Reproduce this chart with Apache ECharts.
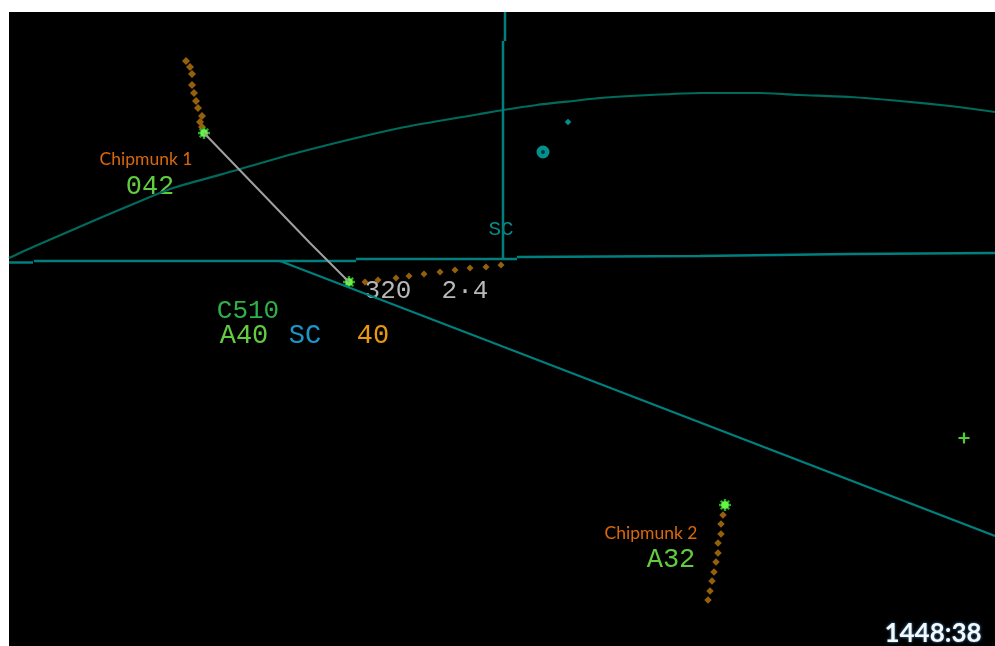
<!DOCTYPE html>
<html><head><meta charset="utf-8">
<style>html,body{margin:0;padding:0;background:#fff}#c{width:995px;height:646px}</style>
<script src="https://cdn.jsdelivr.net/npm/echarts@6/dist/echarts.min.js"></script>
</head><body><div id="c"></div>
<script>
const rangeArc = [[9,258],[33,247],[100,218],[150,197],[173,188],[237,170],[300,152],[400,128],[480,114],[503,110],[537,105],[573,101],[600,98],[650,95],[700,93],[760,93],[800,95],[850,97],[900,101],[950,106],[995,112]];
const baseLeftStub = [[9,262.5],[33,262.5]];
const baseLeft = [[34,261],[356,261]];
const baseMid = [[356,259],[517,259]];
const baseRight = [[517,257],[700,256],[850,254],[995,253]];
const verticalTop = [[505,12],[505,41]];
const verticalMain = [[503,41],[503,259]];
const diagonal = [[280,261],[530,357],[995,536]];
const bearingLine = [[204,133],[310,243],[349,282]];
const track1 = [[186,61],[190,67],[192,74],[192,85],[194,93],[196,101],[198,108],[202,116],[200,122],[202,127]];
const trackCentre = [[365,282],[378,280],[396,278],[409,276],[424,274],[440,272],[455,270],[470,268],[486,267],[501,265]];
const track2 = [[723,515],[721,524],[721,534],[718,543],[718,553],[716,562],[714,572],[712,581],[710,591],[708,600]];
const targets = [[204,133],[349,282],[725,505]];
const crossMark = [[964,438]];
const ringMark = [[543,152]];
const dotMark = [[568,122]];
const altitudeTexts = [['042',150,187],['A32',671,560],['A40',244,336]];
const callsignTexts = [['C510',248,311]];
const sectorTexts = [['SC',501,229]];
const handoffTexts = [['SC',305,336]];
const grayTexts = [['320',388,291],['2·4',465,291]];
const orangeTexts = [['40',373,336]];
const calloutTexts = [['Chipmunk 1',146,159],['Chipmunk 2',651,533]];
const clockText = [['1448:38',933,634]];

const TEAL='#007f7e', ARC='#006a5c', BROWN='#94600c';
const PLUS='path://M-1 -5H1V-1H5V1H1V5H-1V1H-5V-1H-1Z';
const line=(d,c,w,s)=>({type:'line',data:d,symbol:'none',silent:true,animation:false,smooth:s||false,lineStyle:{color:c,width:w}});
const dots=(d,sym,size,c,rot)=>({type:'scatter',data:d,symbol:sym,symbolSize:size,symbolRotate:rot||0,silent:true,animation:false,itemStyle:{color:c,opacity:1}});
const labels=(d,fontFamily,size,color,extra)=>({type:'scatter',symbolSize:0,silent:true,animation:false,itemStyle:{opacity:1},
  data:d.map(t=>({name:t[0],value:[t[1],t[2]]})),
  label:Object.assign({show:true,position:'inside',align:'center',verticalAlign:'middle',formatter:'{b}',fontFamily:fontFamily,fontSize:size,color:color},extra||{})});
const MONO='"Liberation Mono"';
const chart=echarts.init(document.getElementById('c'),null,{renderer:'canvas'});
chart.setOption({
 backgroundColor:'#fff',animation:false,
 grid:{left:9,right:0,top:12,bottom:0,show:true,backgroundColor:'#000',borderWidth:0},
 xAxis:{type:'value',min:9,max:995,show:false},
 yAxis:{type:'value',min:12,max:646,inverse:true,show:false},
 series:[
  line(rangeArc,ARC,2.2,0.2),line(baseLeftStub,TEAL,2.5),line(baseLeft,TEAL,2.5),line(baseMid,TEAL,2.5),line(baseRight,TEAL,2.5),
  line(verticalTop,TEAL,2.5),line(verticalMain,TEAL,2.5),line(diagonal,TEAL,2.2),line(bearingLine,'#a0a0a0',2),
  dots(track1,'diamond',8,BROWN),dots(trackCentre,'diamond',7,BROWN),dots(track2,'diamond',7.5,BROWN),
  dots(targets,PLUS,12,'#2fa82a',45),dots(targets,PLUS,12,'#2fa82a',0),dots(targets,'circle',7.5,'#66f544'),
  dots(crossMark,PLUS,11,'#4fd030'),
  {type:'scatter',data:ringMark,symbol:'circle',symbolSize:8.5,silent:true,animation:false,itemStyle:{opacity:1,color:'#003c3c',borderColor:'#058f8c',borderWidth:4.5}},
  dots(dotMark,'diamond',6.5,'#058f8c'),
  labels(altitudeTexts,MONO,27,'#62cc40'),
  labels(callsignTexts,MONO,26,'#2eb04a'),
  labels(sectorTexts,MONO,21,'#0b8a8a'),
  labels(handoffTexts,MONO,27,'#1a96c8'),
  labels(grayTexts,MONO,26,'#b8b8b8'),
  labels(orangeTexts,MONO,27,'#e8980a'),
  labels(calloutTexts,'Lato',17.5,'#d9680c'),
  labels(clockText,'Lato',26,'#f6f9fc',{fontWeight:700,textShadowColor:'#4a90c8',textShadowBlur:3})
 ]
});
</script></body></html>
